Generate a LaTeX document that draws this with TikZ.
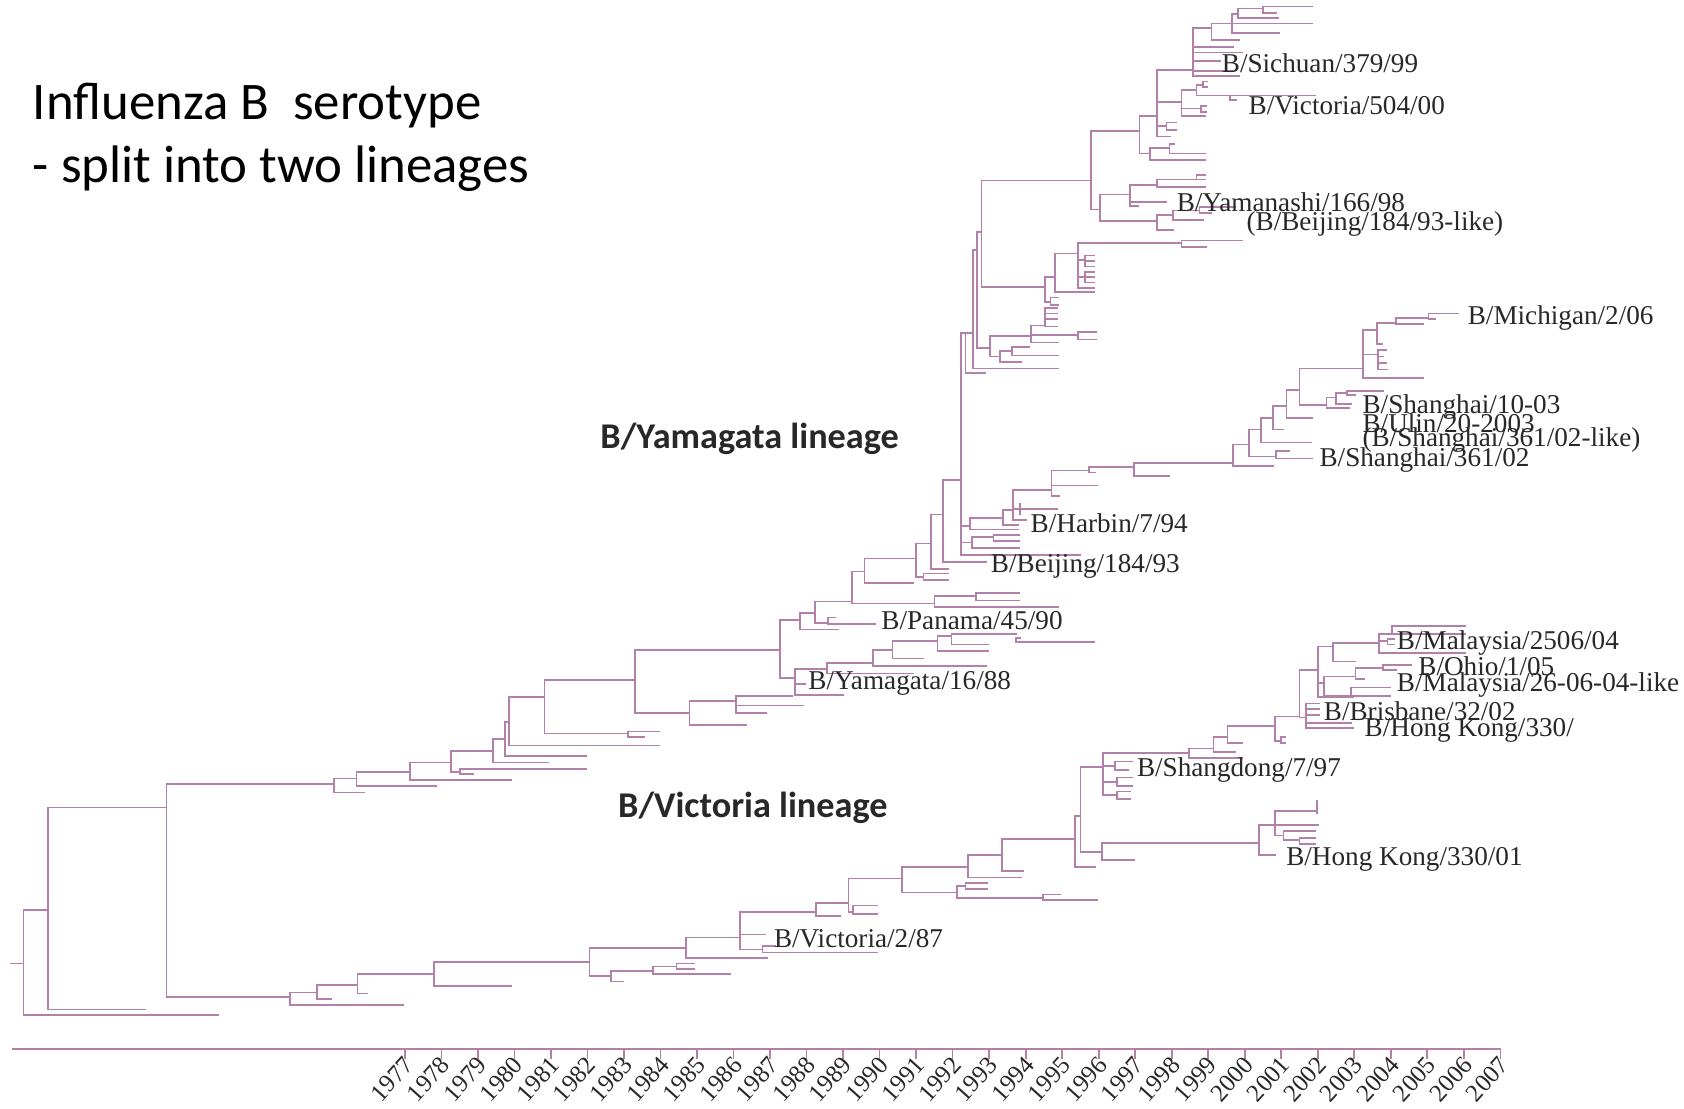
\documentclass[tikz,border=0pt]{standalone}
\usepackage{fontspec}
\setmainfont{Liberation Serif}
\newfontfamily\cali{Carlito}
\definecolor{tree}{RGB}{178,128,168}
\definecolor{ink}{RGB}{40,40,40}
\tikzset{
  br/.style={draw=tree, line width=0.45pt, line cap=rect},
  lab/.style={font=\fontsize{7.2}{8}\selectfont, anchor=west, inner sep=0pt, text=ink},
  yrlab/.style={font=\fontsize{6.6}{7}\selectfont, anchor=east, inner sep=0pt, text=ink, rotate=48},
  lin/.style={font=\cali\bfseries\fontsize{9.6}{11}\selectfont, inner sep=0pt, text=ink},
  ttl/.style={font=\cali\fontsize{14}{17}\selectfont, anchor=base west, inner sep=0pt, text=black}
}
\newcommand{\cn}[2]{%
  \foreach \yy/\xx [count=\ii] in {#2}{%
    \ifnum\ii=1 \xdef\cntop{\yy}\fi
    \draw[br] (#1,\cntop) -- (#1,\yy) -- (\xx,\yy);
  }%
}
\begin{document}
\begin{tikzpicture}[x=0.1mm,y=-0.1mm]
\fill[white] (0,0) rectangle (1568,1032);
\useasboundingbox (0,0) rectangle (1568,1032);

% ---------- root ----------
\draw[br] (10,897) -- (22,897);
\cn{22}{847/45, 945/203}
\cn{45}{752/155, 940/135}
\cn{155}{730/311, 928/270}

% ---------- Victoria lineage ----------
\cn{270}{924/295, 936/375}
\cn{295}{917/333, 930/308}
\cn{333}{907/404, 925/342}
\cn{404}{896/549, 918/476}
\cn{549}{883/639, 909/569}
\cn{569}{904/608, 914/580}
\cn{608}{900/630, 907/680}
\cn{630}{897/646, 902/646}
\cn{639}{873/689, 892/714}
\cn{689}{849/760, 870/712, 884/710}
\cn{710}{881/722, 887/817}
\cn{760}{841/790, 853/782}
\cn{790}{818/840, 849/794}
\cn{794}{843/817, 851/817}
\cn{840}{807/901, 831/891}
\cn{891}{825/899, 836/971}
\cn{899}{822/919, 828/919}
\cn{971}{833/987, 838/1022}
\cn{901}{796/933, 817/951}
\cn{933}{781/1001, 811/953}
\cn{1001}{760/1006, 807/1020}
\cn{1006}{714/1027, 793/1026}
\cn{1026}{785/1172, 801/1056}
% Shangdong
\cn{1027}{701/1107, 713/1038, 728/1040, 740/1040}
\cn{1038}{709/1054, 717/1050}
\cn{1040}{724/1054, 732/1054}
\cn{1040}{737/1052, 744/1052}
% Malaysia / Brisbane
\cn{1107}{697/1130, 706/1157}
\cn{1130}{686/1143, 700/1150}
\cn{1143}{676/1187, 692/1157}
\cn{1187}{667/1210, 690/1193}
\cn{1193}{686/1197, 692/1197}
\cn{1210}{624/1227, 668/1216}
\cn{1216}{655/1228, 660/1228, 666/1228, 673/1258, 678/1260}
\cn{1227}{602/1241, 636/1233, 649/1260}
\cn{1241}{599/1284, 616/1262}
\cn{1284}{590/1296, 597/1292, 608/1364}
\cn{1296}{583/1364, 590/1364}
\cn{1292}{595/1298, 600/1298}
\cn{1233}{630/1262, 648/1258}
\cn{1262}{622/1288, 632/1270}
\cn{1288}{619/1314, 624/1300}
\cn{1258}{640/1294, 648/1294}
% Hong Kong
\cn{1172}{768/1187, 796/1187}
\cn{1187}{755/1226, 768/1227, 778/1195}
\draw[br] (1226,746) -- (1226,757);
\cn{1195}{774/1225, 782/1210}
\cn{1210}{780/1225, 786/1225}

% ---------- Yamagata lineage ----------
\cn{311}{725/332, 738/339}
\cn{332}{719/382, 732/406}
\cn{382}{710/420, 726/476}
\cn{420}{699/459, 719/428}
\cn{428}{716/546, 721/441}
\cn{459}{688/470, 710/510}
\cn{470}{672/474, 704/546}
\cn{474}{649/507, 694/614}
\cn{507}{633/591, 683/585}
\cn{585}{681/614, 686/600}
\cn{591}{605/726, 664/642}
\cn{642}{653/685, 675/695}
\cn{685}{648/738, 657/748, 664/713}
\cn{726}{577/745, 631/740}
\cn{740}{623/770, 637/750, 647/785}
\cn{770}{617/813, 627/850}
\cn{813}{605/831, 620/918}
\cn{831}{597/873, 613/860}
\cn{873}{592/886, 606/920}
\cn{886}{590/946, 600/920}
\cn{946}{594/950, 598/1019}
\cn{745}{571/759, 586/780}
\cn{759}{560/793, 580/771}
\cn{771}{575/778, 581/815}
\cn{793}{532/805, 562/870}
\cn{870}{555/909, 565/985}
\cn{909}{552/949, 559/949}
\cn{805}{520/853, 543/850}
\cn{853}{506/867, 537/860}
\cn{860}{534/883, 540/883}
\cn{867}{479/878, 530/883}
\cn{878}{447/895, 523/918}
\cn{895}{310/899, 490/903, 505/905, 517/1006}
\cn{903}{482/934, 493/948}
\cn{934}{475/943, 489/948}
\cn{943}{456/979, 474/984, 484/955}
\draw[br] (950,469) -- (950,479);
\cn{905}{500/925, 510/949}
\cn{925}{498/949, 504/949}
\cn{979}{438/1014, 452/1022, 462/986}
\cn{1014}{435/1056, 440/1020}
\cn{1056}{431/1148, 443/1089}
\cn{1148}{414/1163, 434/1185}
\cn{1163}{400/1174, 425/1188}
\cn{1188}{420/1200, 427/1222}
\cn{1174}{389/1185, 412/1221}
\cn{1185}{378/1198, 400/1195}
\cn{1198}{363/1210, 389/1222}
\cn{1210}{343/1269, 377/1235}
\cn{1235}{370/1244, 380/1256}
\cn{1244}{366/1254, 376/1258}
\cn{1254}{364/1288, 368/1262}
\cn{1269}{307/1282, 330/1283, 352/1325}
\cn{1282}{301/1300, 320/1287}
\cn{1300}{296/1330, 302/1325}
\cn{1330}{292/1358, 297/1336}
\cn{1283}{326/1291, 332/1288, 338/1291, 344/1292}
% upper trunk
\cn{899}{310/906, 347/917}
\cn{906}{233/910, 343/985}
\cn{910}{216/914, 324/922}
\cn{914}{168/1016, 267/973}
% middle clade
\cn{973}{258/982, 281/978}
\cn{982}{236/1004, 272/1019}
\cn{1004}{226/1100, 242/1010, 258/1010, 268/1019}
\cn{1010}{238/1019, 243/1019, 248/1019}
\cn{1010}{253/1019, 258/1019, 263/1019}
\cn{1100}{224/1157, 230/1123}
\cn{978}{277/985, 284/985}
\cn{922}{313/960, 332/931}
\cn{931}{327/942, 337/951}
\cn{942}{323/958, 331/985}
\cn{960}{303/973, 312/1004, 319/985}
\cn{973}{287/984, 292/984, 297/984, 304/984}
\cn{1004}{309/1021, 316/1021}
% top clade
\cn{1016}{122/1061, 195/1024}
\cn{1024}{181/1052, 206/1077}
\cn{1052}{172/1077, 188/1086, 192/1060}
\cn{1077}{167/1114, 174/1122}
\cn{1114}{163/1122, 167/1122}
\cn{1077}{200/1092, 214/1092}
\cn{1092}{196/1117, 205/1120}
\cn{1117}{193/1150, 198/1128}
\cn{1061}{108/1077, 143/1071}
\cn{1071}{138/1089, 149/1122}
\cn{1089}{134/1093, 143/1122}
\cn{1077}{65/1111, 95/1100, 117/1086, 127/1090}
\cn{1086}{114/1095, 121/1095}
\cn{1100}{84/1114, 101/1118, 108/1122}
\cn{1114}{79/1120, 89/1145}
\cn{1120}{76/1124, 81/1124}
\cn{1145}{89/1225, 93/1151}
\cn{1118}{99/1123, 104/1123}
\cn{1111}{26/1128, 44/1148, 49/1157, 57/1136, 66/1148, 71/1154}
\cn{1128}{22/1147, 37/1154}
\cn{1147}{13/1153, 22/1222, 31/1191}
\cn{1153}{8/1176, 17/1190}
\cn{1176}{6/1222, 12/1188}

% ---------- strain labels ----------
\node[lab] (l1) at (1137,59) {B/Sichuan/379/99};
\node[lab] (l2) at (1162,98) {B/Victoria/504/00};
\node[lab] (l3) at (1095,188) {B/Yamanashi/166/98};
\node[lab] (l4) at (1160,209) {(B/Beijing/184/93-like)};
\node[lab] (l5) at (1366,296) {B/Michigan/2/06};
\node[lab] (l6) at (1268,379) {B/Shanghai/10-03};
\node[lab] (l7) at (1268,394) {B/Ulin/20-2003};
\node[lab] (l8) at (1268,410) {(B/Shanghai/361/02-like)};
\node[lab] (l9) at (1228,428) {B/Shanghai/361/02};
\node[lab] (l10) at (959,487) {B/Harbin/7/94};
\node[lab] (l11) at (922,527) {B/Beijing/184/93};
\node[lab] (l12) at (820,578) {B/Panama/45/90};
\node[lab] (l13) at (752,636) {B/Yamagata/16/88};
\node[lab] (l14) at (1300,599) {B/Malaysia/2506/04};
\node[lab] (l15) at (1320,620) {B/Ohio/1/05};
\node[lab] (l16) at (1300,638) {B/Malaysia/26-06-04-like};
\node[lab] (l17) at (1232,662) {B/Brisbane/32/02};
\node[lab] (l18) at (1270,680) {B/Hong Kong/330/};
\node[lab] (l19) at (1058,717) {B/Shangdong/7/97};
\node[lab] (l20) at (1197,800) {B/Hong Kong/330/01};
\node[lab] (l21) at (720,874) {B/Victoria/2/87};

% ---------- lineage labels and title ----------
\node[lin] (yam) at (698,409) {B/Yamagata lineage};
\node[lin] (vic) at (701,752) {B/Victoria lineage};
\node[ttl] (t1) at (30,111) {Influenza B\ \ serotype};
\node[ttl] (t2) at (30,170) {- split into two lineages};

% ---------- time axis ----------
\draw[br] (12,977) -- (1397,977);
\foreach \i [evaluate=\i as \xx using 377+34*\i, evaluate=\i as \yr using int(1977+\i)] in {0,...,30}{
  \draw[br] (\xx,977) -- (\xx,985);
  \node[yrlab] (y\i) at (\xx+4,987) {\yr};
}
\end{tikzpicture}
\end{document}
